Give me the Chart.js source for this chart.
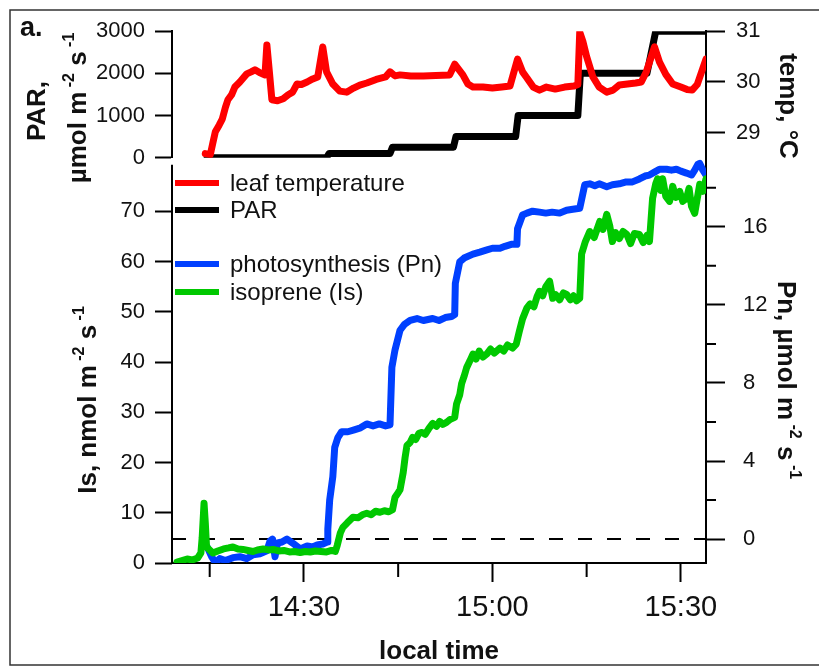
<!DOCTYPE html>
<html lang="en">
<head>
<meta charset="UTF-8">
<title>Leaf temperature, PAR, Pn and isoprene</title>
<script src="https://cdn.jsdelivr.net/npm/chart.js"></script>
<style>
  body { margin: 0; background: #fff; overflow: hidden; }
  canvas { display: block; }
</style>
</head>
<body>
<canvas id="chart" width="819" height="667"></canvas>
<script>
// time is in minutes after 14:00 local time
const xTickValues = [30, 60, 90];
const xTickLabels = ['14:30', '15:00', '15:30'];
const xMinorValues = [15, 45, 75];
const pnMinorValues = [2, 6, 10, 14, 18];

// PAR light steps, µmol m-2 s-1
const par = [
  [14.6, 0], [33.6, 0], [34.0, 100], [43.7, 100], [44.1, 250], [53.8, 250],
  [54.2, 500], [63.7, 500], [64.1, 1000], [73.6, 1000], [74.0, 2000],
  [84.6, 2000], [86.0, 3000], [94.0, 3000]
];

// leaf temperature, °C
const leafTemp = [
  [14.3, 28.59], [15.1, 28.57], [15.5, 28.8], [15.9, 29.02], [16.5, 29.15], [17.0, 29.27],
  [17.5, 29.5], [17.9, 29.65], [18.5, 29.75], [19.0, 29.9], [19.8, 30.0], [20.9, 30.16],
  [21.6, 30.2], [22.2, 30.24], [23.0, 30.18], [23.8, 30.14], [24.1, 30.73], [24.5, 30.2],
  [24.9, 29.65], [25.8, 29.63], [26.7, 29.67], [27.5, 29.75], [28.2, 29.8], [28.9, 29.96],
  [29.6, 29.95], [30.5, 30.0], [31.4, 30.06], [32.2, 30.1], [33.0, 30.69], [33.6, 30.2],
  [34.6, 29.96], [35.7, 29.82], [36.8, 29.8], [37.9, 29.88], [38.9, 29.94], [40.0, 29.98],
  [41.5, 30.05], [43.0, 30.1], [43.7, 30.2], [44.5, 30.12], [45.3, 30.14], [47.0, 30.12],
  [49.0, 30.12], [51.0, 30.13], [53.2, 30.14], [54.0, 30.35], [55.3, 30.14], [56.1, 29.96],
  [56.9, 29.9], [58.5, 29.9], [60.0, 29.88], [61.5, 29.9], [62.8, 29.92], [64.0, 30.45],
  [64.8, 30.2], [65.5, 30.08], [66.5, 29.9], [67.5, 29.84], [68.6, 29.9], [70.0, 29.86],
  [71.5, 29.9], [73.0, 29.92], [73.6, 29.95], [73.9, 30.98], [74.4, 30.8], [75.0, 30.5],
  [75.5, 30.3], [76.0, 30.1], [77.0, 29.9], [78.2, 29.8], [79.2, 29.84], [80.2, 29.94],
  [81.5, 29.96], [82.8, 29.98], [83.7, 30.0], [84.5, 30.2], [85.8, 30.69], [86.6, 30.39],
  [87.6, 30.15], [88.7, 29.96], [90.0, 29.9], [91.0, 29.85], [91.8, 29.84], [92.6, 29.95],
  [93.3, 30.2], [94.0, 30.45]
];

// net photosynthesis Pn, µmol m-2 s-1
const pn = [
  [13.9, -0.3], [14.6, -0.4], [15.3, -0.9], [15.9, -1.2], [16.6, -1.0], [17.5, -1.1],
  [18.7, -0.95], [19.8, -0.9], [20.9, -1.0], [21.9, -0.8], [23.0, -0.75], [24.1, -0.6],
  [24.6, -0.1], [25.0, 0.0], [25.4, -0.9], [25.8, -0.2], [26.5, -0.15], [27.3, 0.0],
  [28.2, -0.2], [29.4, -0.5], [30.5, -0.35], [31.4, -0.4], [32.1, -0.3], [33.0, -0.25],
  [33.7, -0.15], [33.8, 0.5], [34.1, 2.0], [34.6, 3.2], [34.9, 4.7], [35.4, 5.2],
  [36.0, 5.5], [37.0, 5.5], [38.0, 5.6], [39.0, 5.7], [40.0, 5.9], [41.0, 5.8],
  [42.0, 5.9], [43.0, 5.8], [43.7, 5.85], [44.0, 8.8], [44.5, 9.7], [45.3, 10.7],
  [46.0, 11.0], [46.9, 11.2], [48.0, 11.3], [49.0, 11.2], [50.5, 11.3], [51.5, 11.2],
  [52.5, 11.35], [53.5, 11.4], [54.0, 11.5], [54.1, 13.1], [54.8, 14.2], [55.5, 14.4],
  [56.9, 14.6], [58.0, 14.7], [59.0, 14.8], [60.0, 14.9], [61.2, 14.9], [62.0, 15.0],
  [63.0, 15.1], [63.9, 15.1], [64.0, 15.9], [64.8, 16.6], [65.5, 16.7], [66.4, 16.8],
  [67.5, 16.75], [68.5, 16.7], [69.5, 16.75], [70.7, 16.7], [71.8, 16.85], [72.8, 16.9],
  [73.9, 16.95], [74.2, 17.4], [74.7, 18.15], [75.5, 18.2], [76.3, 18.1], [77.0, 18.2],
  [78.2, 18.05], [79.1, 18.15], [80.2, 18.2], [81.3, 18.3], [82.3, 18.3], [83.4, 18.45],
  [84.3, 18.6], [85.0, 18.65], [85.8, 18.8], [86.6, 18.95], [87.7, 18.95], [88.5, 18.9],
  [89.3, 18.95], [90.0, 18.85], [90.9, 18.75], [91.7, 18.65], [92.2, 18.9], [92.7, 19.2],
  [93.0, 19.25], [93.5, 18.9], [94.0, 18.65]
];

// isoprene emission Is, nmol m-2 s-1
const isoprene = [
  [9.8, 0.2], [10.6, 0.5], [11.4, 0.8], [12.2, 0.6], [13.1, 1.0], [13.6, 2.0],
  [13.8, 5.0], [14.1, 11.9], [14.3, 8.0], [14.5, 3.2], [15.0, 2.6], [15.5, 2.0],
  [16.3, 2.4], [17.2, 2.8], [18.0, 3.0], [18.7, 3.2], [19.5, 2.8], [20.3, 2.7],
  [21.1, 2.5], [21.9, 2.3], [22.6, 2.6], [23.5, 2.8], [24.3, 2.6], [25.1, 2.7],
  [26.0, 2.4], [26.8, 2.5], [27.7, 2.2], [28.5, 2.3], [29.4, 2.1], [30.2, 2.3],
  [31.0, 2.2], [31.8, 2.4], [32.7, 2.3], [33.6, 2.2], [34.4, 2.5], [35.0, 2.3],
  [35.3, 3.5], [35.8, 6.0], [36.2, 7.1], [36.9, 8.0], [37.8, 9.1], [38.6, 9.0],
  [39.3, 9.6], [40.0, 9.9], [40.7, 9.6], [41.4, 10.3], [42.1, 10.1], [42.8, 10.4],
  [43.5, 10.2], [44.1, 10.6], [44.5, 13.1], [45.0, 14.0], [45.3, 14.6], [45.8, 18.0],
  [46.1, 21.0], [46.4, 23.4], [46.9, 24.0], [47.3, 25.0], [47.8, 24.6], [48.3, 25.8],
  [48.8, 26.0], [49.3, 25.6], [49.9, 26.8], [50.5, 27.8], [51.1, 27.2], [51.6, 28.2],
  [52.1, 27.6], [52.7, 28.0], [53.3, 28.6], [54.0, 29.0], [54.3, 31.7], [54.8, 33.5],
  [55.1, 35.7], [55.5, 37.2], [55.9, 38.9], [56.4, 40.2], [56.9, 41.6], [57.4, 40.6],
  [57.9, 42.2], [58.5, 41.0], [59.1, 41.6], [59.7, 42.6], [60.3, 41.8], [61.2, 42.8],
  [61.8, 42.2], [62.4, 43.4], [63.2, 42.8], [63.8, 43.6], [64.3, 46.2], [64.8, 48.6],
  [65.5, 50.8], [66.0, 51.6], [66.6, 51.0], [67.1, 53.0], [67.5, 54.1], [68.0, 53.2],
  [68.5, 55.0], [69.1, 56.1], [69.6, 52.7], [70.1, 53.4], [70.7, 52.4], [71.3, 53.8],
  [71.8, 53.5], [72.4, 52.4], [72.9, 53.2], [73.4, 52.2], [73.9, 52.7], [74.2, 61.5],
  [74.8, 64.0], [75.5, 66.0], [76.2, 64.8], [77.1, 68.0], [77.6, 66.4], [78.2, 69.4],
  [78.7, 67.0], [79.1, 64.0], [79.6, 65.8], [80.2, 64.6], [80.8, 66.0], [81.4, 65.4],
  [82.0, 63.6], [82.6, 65.6], [83.4, 65.4], [84.0, 63.8], [84.6, 65.2], [85.0, 64.0],
  [85.5, 72.6], [86.0, 75.5], [86.3, 76.5], [86.8, 74.2], [87.1, 76.5], [87.6, 73.0],
  [88.2, 72.0], [88.7, 75.0], [89.2, 72.8], [89.8, 74.0], [90.3, 72.0], [90.9, 72.6],
  [91.3, 74.6], [91.7, 71.0], [92.2, 69.6], [92.6, 72.5], [93.0, 75.4], [93.5, 74.0],
  [94.0, 76.5]
];

const FONT = 'Liberation Sans';
const toXY = rows => rows.map(([x, y]) => ({x, y}));

function line(label, rows, axis, color) {
  return {
    label, data: toXY(rows), yAxisID: axis,
    borderColor: color, backgroundColor: color, borderWidth: 7,
    pointRadius: 0, tension: 0, borderJoinStyle: 'round', borderCapStyle: 'round'
  };
}

function yAxis(pos, extra) {
  return Object.assign({
    type: 'linear', position: pos, stack: pos,
    grid: {drawOnChartArea: false, tickLength: pos === 'left' ? 17 : 19, tickWidth: 2, tickColor: '#000'},
    border: {color: '#000', width: 2},
    afterFit: s => { s.width = pos === 'left' ? 172 : 113; }
  }, extra);
}

function tickOpts(step, pad) {
  return {stepSize: step, padding: pad, color: '#111', font: {family: FONT, size: 22},
          autoSkip: false, includeBounds: false, callback: v => String(v)};
}

// draws a rotated title with superscripts, centred on (x, y) at the baseline
function richText(ctx, parts, x, y, angle) {
  const main = `bold 26px "${FONT}"`;
  const sup = `bold 16px "${FONT}"`;
  ctx.save();
  ctx.translate(x, y);
  ctx.rotate(angle);
  ctx.textBaseline = 'alphabetic';
  ctx.textAlign = 'left';
  let total = 0;
  parts.forEach(([t, s]) => { ctx.font = s ? sup : main; total += ctx.measureText(t).width; });
  let cx = -total / 2;
  parts.forEach(([t, s]) => {
    ctx.font = s ? sup : main;
    ctx.fillText(t, cx, s ? -12 : 0);
    cx += ctx.measureText(t).width;
  });
  ctx.restore();
}

const decorations = {
  id: 'decorations',
  afterDraw(chart) {
    const {ctx, scales: {x, yIs, yPn}} = chart;
    ctx.save();
    ctx.strokeStyle = '#000';
    ctx.lineWidth = 2;
    ctx.beginPath();
    // lower-left axis line starts a little below the upper panel
    ctx.moveTo(yIs.right, yIs.top + 7);
    ctx.lineTo(yIs.right, yIs.bottom + 1);
    xMinorValues.forEach(v => {
      const px = x.getPixelForValue(v);
      ctx.moveTo(px, x.top);
      ctx.lineTo(px, x.top + 14);
    });
    pnMinorValues.forEach(v => {
      const py = yPn.getPixelForValue(v);
      ctx.moveTo(yPn.left, py);
      ctx.lineTo(yPn.left + 10, py);
    });
    ctx.stroke();

    // panel frame
    ctx.strokeStyle = '#333';
    ctx.lineWidth = 1.5;
    ctx.strokeRect(10, 10, 840, 655);

    ctx.fillStyle = '#111';
    ctx.font = `bold 27px "${FONT}"`;
    ctx.textBaseline = 'alphabetic';
    ctx.fillText('a.', 20, 36);

    // axis titles
    richText(ctx, [['PAR,']], 45, 111, -Math.PI / 2);
    richText(ctx, [['µmol m'], [' -2', 1], [' s'], [' -1', 1]], 86, 108, -Math.PI / 2);
    richText(ctx, [['Is, nmol m'], [' -2', 1], [' s'], [' -1', 1]], 96, 400, -Math.PI / 2);
    richText(ctx, [['temp, °C']], 780, 106, Math.PI / 2);
    richText(ctx, [['Pn, µmol m'], [' -2', 1], [' s'], [' -1', 1]], 778, 380, Math.PI / 2);

    // legend
    const rows = [['leaf temperature', 183], ['PAR', 210], ['photosynthesis (Pn)', 264], ['isoprene (Is)', 292]];
    ctx.font = `24px "${FONT}"`;
    ctx.textBaseline = 'middle';
    rows.forEach(([label, y]) => {
      const ds = chart.data.datasets.find(d => d.label === label);
      ctx.strokeStyle = ds.borderColor;
      ctx.lineWidth = 6;
      ctx.beginPath();
      ctx.moveTo(175, y);
      ctx.lineTo(219, y);
      ctx.stroke();
      ctx.fillStyle = '#111';
      ctx.fillText(label, 230, y + 1);
    });
    ctx.restore();
  }
};

new Chart(document.getElementById('chart'), {
  type: 'line',
  data: {
    datasets: [
      line('isoprene (Is)', isoprene, 'yIs', '#00c800'),
      line('photosynthesis (Pn)', pn, 'yPn', '#0040ff'),
      line('leaf temperature', leafTemp, 'yTemp', '#ff0000'),
      line('PAR', par, 'yPar', '#000000'),
      {label: 'zero', data: [{x: 9, y: 0}, {x: 94, y: 0}], yAxisID: 'yPn',
       borderColor: '#000', borderWidth: 2, borderDash: [14, 15], pointRadius: 0}
    ]
  },
  options: {
    responsive: false,
    animation: false,
    layout: {padding: {top: 29, left: 0, right: 0, bottom: 0}},
    plugins: {legend: {display: false}, tooltip: {enabled: false}},
    scales: {
      x: {
        type: 'linear', position: 'bottom', min: 9, max: 94,
        afterBuildTicks: s => { s.ticks = xTickValues.map(v => ({value: v})); },
        ticks: {autoSkip: false, maxRotation: 0, padding: 9, color: '#111', font: {family: FONT, size: 29},
                callback: v => xTickLabels[xTickValues.indexOf(v)] || ''},
        grid: {drawOnChartArea: false, tickLength: 19, tickWidth: 2, tickColor: '#000'},
        border: {color: '#000', width: 2},
        title: {display: true, text: 'local time', color: '#111',
                font: {family: FONT, size: 26, weight: 'bold'}, padding: {top: 0, bottom: 0}},
        afterFit: s => { s.height = 104; }
      },
      yPar: yAxis('left', {weight: 1, stackWeight: 127, min: 0, max: 3000, ticks: tickOpts(1000, 10)}),
      yIs: yAxis('left', {weight: 0, stackWeight: 407, min: 0, max: 80.7, ticks: tickOpts(10, 10),
        border: {display: false},
        afterBuildTicks: s => { s.ticks = s.ticks.filter(t => t.value <= 70); }}),
      yTemp: yAxis('right', {weight: 0, stackWeight: 127, min: 28.51, max: 31, ticks: tickOpts(1, 11)}),
      yPn: yAxis('right', {weight: 1, stackWeight: 407, min: -1.224, max: 19.54, ticks: tickOpts(4, 18)})
    }
  },
  plugins: [decorations]
});
</script>
</body>
</html>
